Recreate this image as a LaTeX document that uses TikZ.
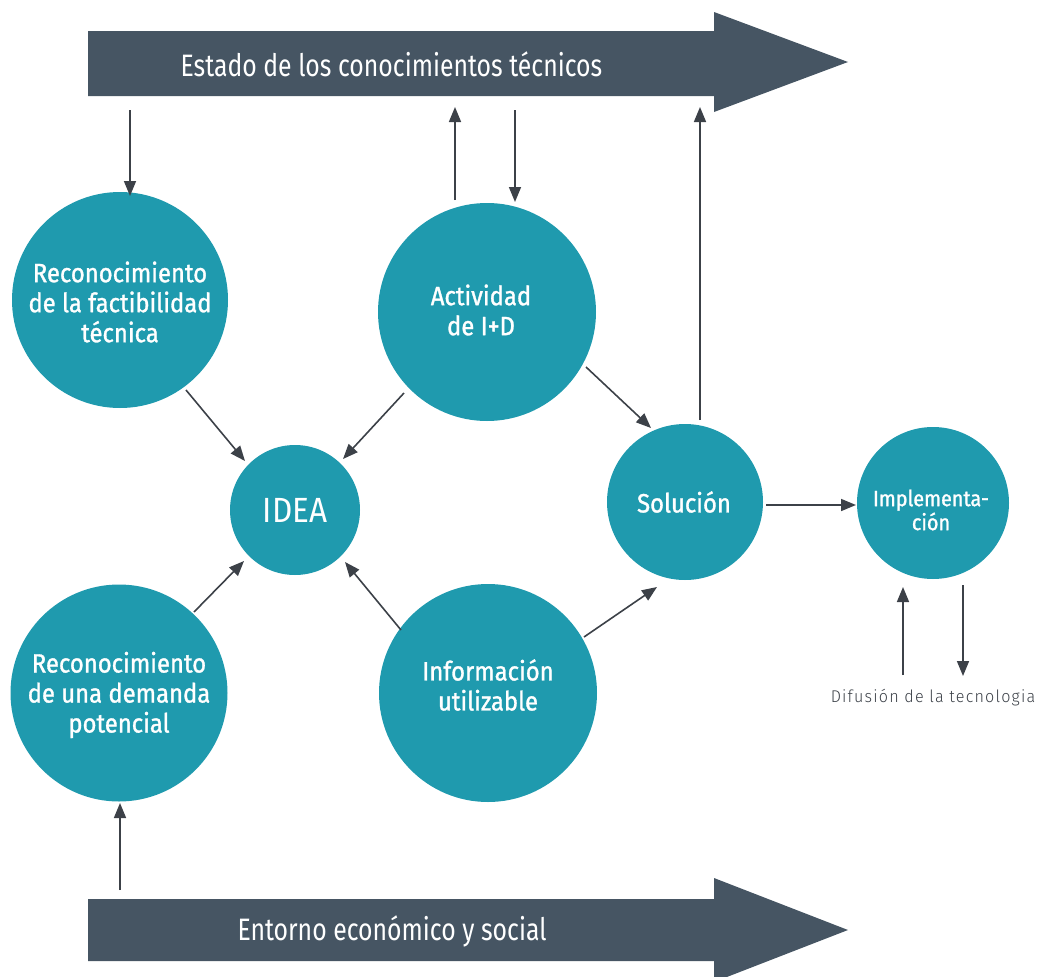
\documentclass[tikz,border=0pt]{standalone}
\usepackage{fontspec}
\setmainfont{Fira Sans}
\newfontfamily\bannerfont[FakeStretch=0.8]{Fira Sans}
\newfontfamily\circfont[FakeStretch=0.9,FakeBold=1.2]{Fira Sans}
\newfontfamily\ideafont[FakeStretch=0.9]{Fira Sans}
\newfontfamily\smallfont[FakeStretch=0.95,LetterSpace=7]{Fira Sans Light}
\usetikzlibrary{arrows.meta}
\definecolor{teal}{HTML}{1F9AAE}
\definecolor{slate}{HTML}{465563}
\definecolor{arr}{HTML}{3C4148}
\tikzset{
  circ/.style={circle, fill=teal, inner sep=0pt},
  ctext/.style={text=white, align=center, inner sep=0pt, font=\circfont\fontsize{26.5}{30}\selectfont},
  banner/.style={fill=slate, draw=none},
  bantext/.style={text=white, font=\bannerfont\fontsize{31}{33}\selectfont, anchor=west},
  conn/.style={draw=arr, line width=1.6pt, -{Triangle[length=15pt,width=12pt]}},
}
\begin{document}
\begin{tikzpicture}[x=1pt,y=-1pt]
\useasboundingbox (0,0) rectangle (1050,977);
% banners
\fill[banner] (88,31) -- (714,31) -- (714,12) -- (848,62) -- (714,112) -- (714,96) -- (88,96) -- cycle;
\node[bantext] (topt) at (177,64) {Estado de los conocimientos técnicos};
\fill[banner] (88,899) -- (714,899) -- (714,878) -- (848,930) -- (714,982) -- (714,961) -- (88,961) -- cycle;
\node[bantext] (bott) at (234,931) {Entorno económico y social};
% circles
\node[circ, minimum size=216pt] (fact) at (120,300) {};
\node[ctext] (factt) at (120,302) {Reconocimiento\\de la factibilidad\\técnica};
\node[circ, minimum size=218pt] (act) at (487,312) {};
\node[ctext] (actt) at (481,310) {Actividad\\de I+D};
\node[circ, minimum size=130pt] (idea) at (295,510) {};
\node[ctext, font=\ideafont\fontsize{35}{38}\selectfont] (ideat) at (295,510) {IDEA};
\node[circ, minimum size=156pt] (sol) at (685,502) {};
\node[ctext] (solt) at (684,502) {Solución};
\node[circ, minimum size=152pt] (imp) at (933,503) {};
\node[ctext, font=\circfont\fontsize{22}{24}\selectfont] (impt) at (931,510) {Implementa-\\ción};
\node[circ, minimum size=217pt] (dem) at (119,693) {};
\node[ctext] (demt) at (119,695) {Reconocimiento\\de una demanda\\potencial};
\node[circ, minimum size=218pt] (inf) at (488,693) {};
\node[ctext] (inft) at (488,685) {Información\\utilizable};
\node[font=\smallfont\fontsize{17}{19}\selectfont, text=arr] (dif) at (933,698) {Difusión de la tecnologia};
% coordinates for free ends
\coordinate (t1) at (130,110);
\coordinate (t2) at (455,107);
\coordinate (t3) at (515,110);
\coordinate (t4) at (700,107);
\coordinate (b1) at (120,890);
\coordinate (d1) at (903,675);
\coordinate (d2) at (963,676);
% connectors
\draw[conn] (t1) -- (130,196);
\draw[conn] (455,200) -- (t2);
\draw[conn] (t3) -- (515,202);
\draw[conn] (700,420) -- (t4);
\draw[conn] (186,390) -- (245,461);
\draw[conn] (404,393) -- (343,459);
\draw[conn] (586,367) -- (651,428);
\draw[conn] (766,505) -- (856,505);
\draw[conn] (194,612) -- (244,561);
\draw[conn] (401,630) -- (345,562);
\draw[conn] (584,637) -- (657,587);
\draw[conn] (d1) -- (903,587);
\draw[conn] (963,585) -- (d2);
\draw[conn] (b1) -- (120,803);
\end{tikzpicture}
\end{document}
